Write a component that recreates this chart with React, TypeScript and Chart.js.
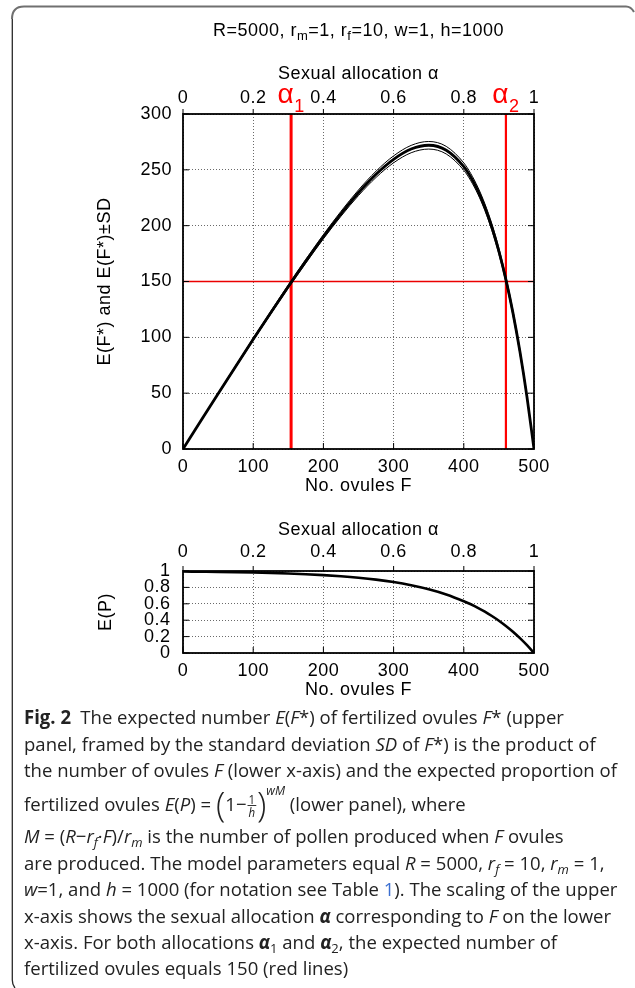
import React, { useEffect, useLayoutEffect, useRef, useState } from 'react';
import { Chart, registerables } from 'chart.js';

Chart.register(...registerables);

// ---------------- data ----------------
const OVULES_F = [0, 25, 50, 75, 100, 125, 150, 175, 200, 225, 250, 275, 300, 325, 350, 375, 400, 410, 420, 430, 440, 450, 460, 470, 480, 490, 500];
const EXPECTED_FSTAR = [0, 24.8, 49.4, 73.9, 98.2, 122.1, 145.5, 168.2, 190.1, 210.6, 229.5, 246.0, 259.4, 268.6, 272.0, 267.6, 252.9, 243.4, 231.4, 216.6, 198.6, 177.1, 151.7, 121.9, 87.0, 46.6, 0];
const SD_FSTAR = [0, 0.4, 0.7, 0.9, 1.1, 1.3, 1.5, 1.7, 1.9, 2.2, 2.5, 2.8, 3.1, 3.3, 3.4, 3.4, 3.3, 3.2, 3.1, 3.0, 2.9, 2.7, 2.5, 2.2, 1.9, 1.4, 0];
const EXPECTED_P = [0.993, 0.991, 0.989, 0.986, 0.982, 0.977, 0.970, 0.961, 0.950, 0.936, 0.918, 0.895, 0.865, 0.826, 0.777, 0.714, 0.632, 0.594, 0.551, 0.504, 0.451, 0.394, 0.330, 0.259, 0.181, 0.095, 0];

const F_TICKS = [0, 100, 200, 300, 400, 500];
const ALPHA_TICKS = [0, 0.2, 0.4, 0.6, 0.8, 1];
const FSTAR_TICKS = [0, 50, 100, 150, 200, 250, 300];
const P_TICKS = [0, 0.2, 0.4, 0.6, 0.8, 1];

const TARGET_FSTAR = 150;
const ALPHA_CROSS_F = [154, 460];
const ALPHA_CROSS_NAMES = ['1', '2'];

// ---------------- layout constants ----------------
const CW = 635;
const FONT_FAMILY = '"Liberation Sans", Arial, Helvetica, sans-serif';
const FS = 18;
const FONT = { family: FONT_FAMILY, size: FS };
const GRID = '#6a6a6a';
const PLOT_LEFT = 183;
const PLOT_RIGHT_PAD = CW - 534;
const LETTER_SPACING = '0.5px';

Chart.defaults.font.family = FONT_FAMILY;
Chart.defaults.color = '#000';

const spacingPlugin = {
  id: 'spacing',
  beforeUpdate(chart: any) {
    chart.ctx.letterSpacing = LETTER_SPACING;
  },
  beforeDraw(chart: any) {
    chart.ctx.letterSpacing = LETTER_SPACING;
  },
};

const framePlugin = {
  id: 'frameTicks',
  afterDraw(chart: any) {
    const { ctx, chartArea: a } = chart;
    const sx = chart.scales.x;
    const st = chart.scales.xTop;
    const sy = chart.scales.y;
    ctx.save();
    ctx.strokeStyle = '#000';
    ctx.lineWidth = 1;
    ctx.setLineDash([]);
    ctx.beginPath();
    sx.ticks.forEach((t: any) => {
      const p = sx.getPixelForValue(t.value);
      ctx.moveTo(p, a.bottom);
      ctx.lineTo(p, a.bottom - 6);
    });
    st.ticks.forEach((t: any) => {
      const p = st.getPixelForValue(t.value);
      ctx.moveTo(p, a.top);
      ctx.lineTo(p, a.top - 5);
    });
    sy.ticks.forEach((t: any) => {
      const p = sy.getPixelForValue(t.value);
      ctx.moveTo(a.left, p);
      ctx.lineTo(a.left + 6, p);
      ctx.moveTo(a.right, p);
      ctx.lineTo(a.right - 6, p);
    });
    ctx.stroke();
    ctx.lineWidth = 1.8;
    ctx.strokeRect(a.left, a.top, a.right - a.left, a.bottom - a.top);
    ctx.restore();
  },
};

const TITLE_PARTS = [
  { text: 'R=5000, r', sub: false },
  { text: 'm', sub: true },
  { text: '=1, r', sub: false },
  { text: 'f', sub: true },
  { text: '=10, w=1, h=1000', sub: false },
];

const upperTextPlugin = {
  id: 'upperText',
  afterDraw(chart: any) {
    const { ctx, chartArea: a } = chart;
    const sx = chart.scales.x;
    ctx.save();
    ctx.textBaseline = 'alphabetic';
    ctx.textAlign = 'left';
    ctx.fillStyle = '#000';
    let total = 0;
    TITLE_PARTS.forEach((p) => {
      ctx.font = `${p.sub ? 13 : FS}px ${FONT_FAMILY}`;
      total += ctx.measureText(p.text).width;
    });
    let x = (a.left + a.right) / 2 - total / 2;
    TITLE_PARTS.forEach((p) => {
      ctx.font = `${p.sub ? 13 : FS}px ${FONT_FAMILY}`;
      ctx.fillText(p.text, x, p.sub ? 40 : 36);
      x += ctx.measureText(p.text).width;
    });
    ctx.fillStyle = 'rgb(255,0,0)';
    ALPHA_CROSS_F.forEach((f, i) => {
      const px = sx.getPixelForValue(f);
      ctx.font = `28px ${FONT_FAMILY}`;
      const w1 = ctx.measureText('α').width;
      ctx.font = `18px ${FONT_FAMILY}`;
      const w2 = ctx.measureText(ALPHA_CROSS_NAMES[i]).width;
      const x0 = px - (w1 + w2) / 2;
      ctx.font = `28px ${FONT_FAMILY}`;
      ctx.fillText('α', x0, 103);
      ctx.font = `18px ${FONT_FAMILY}`;
      ctx.fillText(ALPHA_CROSS_NAMES[i], x0 + w1, 112);
    });
    ctx.restore();
  },
};

function makeScales(cfg: any) {
  return {
    x: {
      type: 'linear',
      position: 'bottom',
      min: 0,
      max: 500,
      afterBuildTicks: (s: any) => {
        s.ticks = F_TICKS.map((v) => ({ value: v }));
      },
      ticks: { font: FONT, color: '#000', padding: cfg.xPad, maxRotation: 0, minRotation: 0, autoSkip: false, callback: (v: any) => String(v) },
      grid: { color: GRID, lineWidth: 1, drawTicks: false },
      border: { display: false, dash: [1, 2] },
      title: { display: true, text: 'No. ovules F', font: FONT, color: '#000', padding: { top: 0, bottom: cfg.xTitlePad } },
      afterFit: (s: any) => {
        s.height = cfg.xHeight;
      },
    },
    xTop: {
      type: 'linear',
      axis: 'x',
      position: 'top',
      min: 0,
      max: 1,
      afterBuildTicks: (s: any) => {
        s.ticks = ALPHA_TICKS.map((v) => ({ value: v }));
      },
      ticks: { font: FONT, color: '#000', padding: cfg.tPad, maxRotation: 0, minRotation: 0, autoSkip: false, callback: (v: any) => String(v) },
      grid: { display: false, drawTicks: false },
      border: { display: false },
      title: { display: true, text: 'Sexual allocation α', font: FONT, color: '#000', padding: { top: cfg.tTitlePad, bottom: 0 } },
      afterFit: (s: any) => {
        s.height = cfg.tHeight;
      },
    },
    y: {
      type: 'linear',
      position: 'left',
      min: cfg.yMin,
      max: cfg.yMax,
      afterBuildTicks: (s: any) => {
        s.ticks = cfg.yTicks.map((v: number) => ({ value: v }));
      },
      ticks: { font: FONT, color: '#000', padding: cfg.yPad, autoSkip: false, callback: (v: any) => String(v) },
      grid: { color: GRID, lineWidth: 1, drawTicks: false },
      border: { display: false, dash: [1, 2] },
      title: { display: true, text: cfg.yTitle, font: FONT, color: '#000', padding: { top: cfg.yTitlePad, bottom: 0 } },
      afterFit: (s: any) => {
        s.width = PLOT_LEFT;
      },
    },
  };
}

const baseLine = { showLine: true, pointRadius: 0, pointHoverRadius: 0, fill: false };

function UpperChart() {
  const ref = useRef<HTMLCanvasElement | null>(null);
  useEffect(() => {
    const pts = (ys: number[]) => OVULES_F.map((f, i) => ({ x: f, y: ys[i] }));
    const chart = new Chart(ref.current as any, {
      type: 'scatter',
      data: {
        datasets: [
          { ...baseLine, data: [{ x: 0, y: TARGET_FSTAR }, { x: 500, y: TARGET_FSTAR }], borderColor: 'rgb(235,0,0)', borderWidth: 1.3, order: 10 },
          { ...baseLine, data: [{ x: ALPHA_CROSS_F[0], y: 0 }, { x: ALPHA_CROSS_F[0], y: 300 }], borderColor: 'rgb(255,0,0)', borderWidth: 3, order: 9 },
          { ...baseLine, data: [{ x: ALPHA_CROSS_F[1], y: 0 }, { x: ALPHA_CROSS_F[1], y: 300 }], borderColor: 'rgb(255,0,0)', borderWidth: 2.2, order: 9 },
          { ...baseLine, data: pts(EXPECTED_FSTAR.map((v, i) => v + SD_FSTAR[i])), borderColor: '#000', borderWidth: 1, cubicInterpolationMode: 'monotone', order: 5 },
          { ...baseLine, data: pts(EXPECTED_FSTAR.map((v, i) => v - SD_FSTAR[i])), borderColor: '#000', borderWidth: 1, cubicInterpolationMode: 'monotone', order: 5 },
          { ...baseLine, data: pts(EXPECTED_FSTAR), borderColor: '#000', borderWidth: 2.8, cubicInterpolationMode: 'monotone', order: 1 },
        ],
      },
      options: {
        responsive: false,
        animation: false,
        events: [],
        layout: { padding: { top: 40, left: 0, right: PLOT_RIGHT_PAD, bottom: 0 } },
        plugins: { legend: { display: false }, tooltip: { enabled: false }, title: { display: false } },
        scales: makeScales({
          xPad: 7.7, xTitlePad: 2.7, xHeight: 51,
          tPad: 5.2, tTitlePad: 23.2, tHeight: 74,
          yMin: 0, yMax: 300, yTicks: FSTAR_TICKS, yPad: 11, yTitle: 'E(F*) and E(F*)±SD', yTitlePad: 94,
        }),
      } as any,
      plugins: [spacingPlugin, framePlugin, upperTextPlugin],
    } as any);
    return () => chart.destroy();
  }, []);
  return (
    <canvas
      ref={ref}
      width={CW}
      height={500}
      style={{ position: 'absolute', left: 0, top: 0, width: CW + 'px', height: '500px' }}
    />
  );
}

function LowerChart() {
  const ref = useRef<HTMLCanvasElement | null>(null);
  useEffect(() => {
    const chart = new Chart(ref.current as any, {
      type: 'scatter',
      data: {
        datasets: [
          { ...baseLine, data: OVULES_F.map((f, i) => ({ x: f, y: EXPECTED_P[i] })), borderColor: '#000', borderWidth: 2.6, cubicInterpolationMode: 'monotone' },
        ],
      },
      options: {
        responsive: false,
        animation: false,
        events: [],
        layout: { padding: { top: 0, left: 0, right: PLOT_RIGHT_PAD, bottom: 0 } },
        plugins: { legend: { display: false }, tooltip: { enabled: false }, title: { display: false } },
        scales: makeScales({
          xPad: 7.2, xTitlePad: 9.2, xHeight: 57,
          tPad: 7.7, tTitlePad: 9.2, tHeight: 61,
          yMin: 0, yMax: 1, yTicks: P_TICKS, yPad: 12.5, yTitle: 'E(P)', yTitlePad: 95.5,
        }),
      } as any,
      plugins: [spacingPlugin, framePlugin],
    } as any);
    return () => chart.destroy();
  }, []);
  return (
    <canvas
      ref={ref}
      width={CW}
      height={200}
      style={{ position: 'absolute', left: 0, top: 510, width: CW + 'px', height: '200px' }}
    />
  );
}

// ---------------- caption ----------------
const CAP_LEFT = 24;
const CAP_FS = 19;
const CAP_LH = 26;
const CAP_BASE_OFFSET = CAP_LH / 2 + 0.388 * CAP_FS;
const CAP_BASELINES = [724, 751, 777.5, 811, 843.5, 870.5, 896.5, 923, 949, 975.5];
const CAP_FIT: [number, number][] = [[0, 573], [1, 594], [2, 612], [6, 620], [7, 606]];

const subS: React.CSSProperties = { fontSize: '0.7em', verticalAlign: '-0.3em', lineHeight: 0 };
const bigParen: React.CSSProperties = { fontSize: '1.85em', fontWeight: 300, lineHeight: 0, verticalAlign: '-0.17em' };

function Caption() {
  const refs = useRef<(HTMLSpanElement | null)[]>([]);
  const [k, setK] = useState(0.86);
  useLayoutEffect(() => {
    const measure = () => {
      let tw = 0;
      let w = 0;
      CAP_FIT.forEach(([idx, end]) => {
        const el = refs.current[idx];
        if (el) {
          w += el.offsetWidth;
          tw += end - CAP_LEFT;
        }
      });
      if (w > 0) setK(tw / w);
    };
    measure();
    if ((document as any).fonts && (document as any).fonts.ready) (document as any).fonts.ready.then(measure);
  }, []);

  const lines: React.ReactNode[] = [
    <>
      <b>Fig. 2</b>{'\u2002'}The expected number <i>E</i>(<i>F</i>*) of fertilized ovules <i>F</i>* (upper
    </>,
    <>
      panel, framed by the standard deviation <i>SD</i> of <i>F</i>*) is the product of
    </>,
    <>
      the number of ovules <i>F</i> (lower x-axis) and the expected proportion of
    </>,
    <>
      fertilized ovules <i>E</i>(<i>P</i>) ={' '}
      <span style={bigParen}>(</span>
      1−
      <span
        style={{
          display: 'inline-block',
          verticalAlign: 'middle',
          fontSize: '0.62em',
          lineHeight: 1.05,
          textAlign: 'center',
          margin: '-20px 1px',
        }}
      >
        <span style={{ display: 'block', borderBottom: '1px solid #333', padding: '0 1px' }}>1</span>
        <span style={{ display: 'block', fontStyle: 'italic' }}>h</span>
      </span>
      <span style={bigParen}>)</span>
      <span style={{ fontSize: '0.65em', lineHeight: 0, verticalAlign: '1.3em', fontStyle: 'italic' }}>wM</span> (lower panel), where
    </>,
    <>
      <i>M</i> = (<i>R</i>−<i>r</i>
      <i style={subS}>f</i>·<i>F</i>)/<i>r</i>
      <i style={subS}>m</i> is the number of pollen produced when <i>F</i> ovules
    </>,
    <>
      are produced. The model parameters equal <i>R</i> = 5000, <i>r</i>
      <i style={subS}>f</i> = 10, <i>r</i>
      <i style={subS}>m</i> = 1,
    </>,
    <>
      <i>w</i>=1, and <i>h</i> = 1000 (for notation see Table <span style={{ color: '#3b6fd1' }}>1</span>). The scaling of the upper
    </>,
    <>
      x-axis shows the sexual allocation{' '}
      <b>
        <i>α</i>
      </b>{' '}
      corresponding to <i>F</i> on the lower
    </>,
    <>
      x-axis. For both allocations{' '}
      <b>
        <i>α</i>
      </b>
      <span style={subS}>1</span> and{' '}
      <b>
        <i>α</i>
      </b>
      <span style={subS}>2</span>, the expected number of
    </>,
    <>fertilized ovules equals 150 (red lines)</>,
  ];

  return (
    <>
      {lines.map((content, i) => (
        <div
          key={i}
          style={{
            position: 'absolute',
            left: CAP_LEFT,
            top: CAP_BASELINES[i] - CAP_BASE_OFFSET,
            fontFamily: '"Open Sans", "Noto Sans", sans-serif',
            fontSize: CAP_FS,
            lineHeight: CAP_LH + 'px',
            whiteSpace: 'nowrap',
            color: '#222',
            transform: `scaleX(${k})`,
            transformOrigin: '0 0',
          }}
        >
          <span
            ref={(el) => {
              refs.current[i] = el;
            }}
            style={{ display: 'inline-block' }}
          >
            {content}
          </span>
        </div>
      ))}
    </>
  );
}

export default function App() {
  return (
    <div
      style={{
        position: 'absolute',
        left: 0,
        top: 0,
        width: 635,
        height: 988,
        overflow: 'hidden',
        background: '#fff',
      }}
    >
      <svg width={635} height={988} style={{ position: 'absolute', left: 0, top: 0 }}>
        <path d="M 12 19 Q 12 6.5 24 6.5 L 626 6.5 Q 631 6.5 634 12" fill="none" stroke="#707070" strokeWidth={2} />
        <path d="M 12.3 19 L 12.3 980 Q 12.3 985 15 988" fill="none" stroke="#2a2a2a" strokeWidth={1.3} />
      </svg>
      <UpperChart />
      <LowerChart />
      <Caption />
    </div>
  );
}
